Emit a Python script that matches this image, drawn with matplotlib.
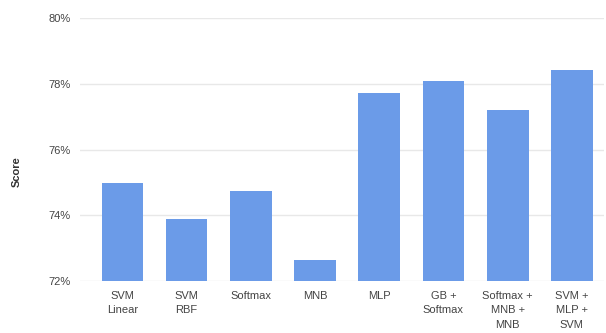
import matplotlib.pyplot as plt
import numpy as np

models = ['SVM\nLinear', 'SVM\nRBF', 'Softmax', 'MNB', 'MLP',
          'GB +\nSoftmax', 'Softmax +\nMNB +\nMNB', 'SVM +\nMLP +\nSVM']
scores = [74.98, 73.88, 74.74, 72.64, 77.72, 78.08, 77.21, 78.42]
yticks = [72, 74, 76, 78, 80]

plt.rcParams['font.family'] = ['Liberation Sans', 'DejaVu Sans']

fig = plt.figure(figsize=(6.06, 3.33), dpi=100)
ax = fig.add_axes([80 / 606, 1 - 281 / 333, 524 / 606, 263 / 333])

x = np.arange(len(models))
ax.bar(x, [s - 72 for s in scores], bottom=72, width=0.65,
       color='#6b9be8', zorder=2)

ax.set_ylim(72, 80)
ax.set_xlim(-0.66, 7.5)
ax.set_yticks(yticks)
ax.set_yticklabels([f'{t}%' for t in yticks])
ax.yaxis.grid(True, color='#e8e8e8', linewidth=1, zorder=0)
for s in ax.spines.values():
    s.set_visible(False)
ax.tick_params(axis='both', length=0, labelsize=8, colors='#444444')
ax.tick_params(axis='y', pad=7)
ax.tick_params(axis='x', pad=7)
ax.set_xticks(x)
ax.set_xticklabels(models, linespacing=1.55, va='top')

fig.text(17 / 606, 1 - 172 / 333, 'Score', rotation=90, ha='center',
         va='center', fontsize=8, fontweight='bold', color='#333333')

fig.savefig('out.png', dpi=100)
